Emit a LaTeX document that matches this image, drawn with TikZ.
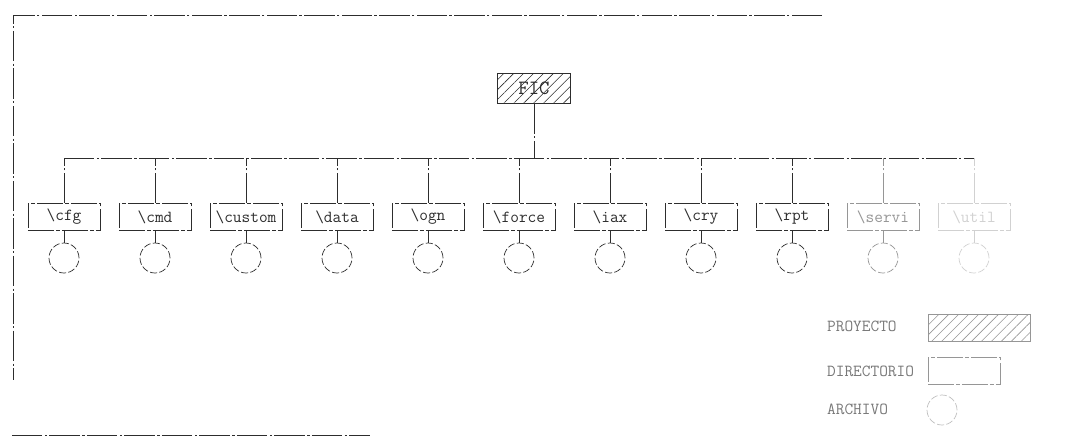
\documentclass[tikz,border=0pt]{standalone}
\usepackage{tikz}
\usetikzlibrary{patterns.meta,positioning,calc}
\definecolor{inkgray}{RGB}{45,45,45}
\definecolor{fadegray}{RGB}{150,150,150}
\tikzset{
  wornline/.style={draw=inkgray,line width=0.6pt,dash pattern=on 26pt off 2pt on 2pt off 2pt},
  frameline/.style={wornline,line width=0.8pt},
  projbox/.style={draw=inkgray,line width=0.6pt,pattern={Lines[angle=45,distance=6pt,line width=0.5pt]},
    pattern color=inkgray,minimum width=2.19cm,minimum height=0.9cm,inner sep=1pt,
    font=\ttfamily\LARGE,text=inkgray},
  dirbox/.style={draw=inkgray,line width=0.6pt,dash pattern=on 22pt off 2pt on 3pt off 2pt,
    minimum width=2.16cm,minimum height=0.81cm,inner sep=1pt,font=\ttfamily\Large,text=inkgray},
  filecirc/.style={circle,draw=inkgray,line width=0.6pt,dash pattern=on 6pt off 2pt,
    minimum size=0.9cm,inner sep=0pt},
  legendtext/.style={anchor=west,font=\ttfamily\Large,text=fadegray!80!black}
}
\begin{document}
\begin{tikzpicture}[x=0.03cm,y=-0.03cm]
  \useasboundingbox (0,0) rectangle (1069,438);
  % page frame
  \draw[frameline] (822,15) -- (13,15) -- (13,380);
  \draw[frameline] (12,435) -- (370,435);
  % project
  \node[projbox] (root) at (534,88) {FIC};
  \coordinate (busL) at (64,158);
  \coordinate (busR) at (974,158);
  \draw[wornline] (busL) -- (busR);
  \draw[wornline] (root.south) -- (root.south |- busL);
  % directories and their files
  \foreach \name/\tone [count=\i from 0] in {cfg/inkgray,cmd/inkgray,custom/inkgray,data/inkgray,
      ogn/inkgray,force/inkgray,iax/inkgray,cry/inkgray,rpt/inkgray,servi/fadegray,util/black!18} {
    \node[dirbox,draw=\tone,text=\tone] (\name) at ({64+91*\i},217) {\textbackslash\name};
    \node[filecirc,draw=\tone] (f\name) at ({64+91*\i},258) {};
    \draw[wornline,draw=\tone] (\name) -- (f\name);
    \draw[wornline,draw=\tone] (\name.north) -- (\name.north |- busL);
  }
  % legend
  \node[legendtext] (lproj) at (823,326) {PROYECTO};
  \node[legendtext] (ldir) at (823,371) {DIRECTORIO};
  \node[legendtext] (lfile) at (823,409) {ARCHIVO};
  \node[projbox,draw=fadegray,pattern color=fadegray,minimum width=3.06cm,minimum height=0.8cm] (kproj) at (979,328) {};
  \node[dirbox,draw=fadegray] (kdir) at (964,371) {};
  \node[filecirc,draw=black!25] (kfile) at (942,410) {};
\end{tikzpicture}
\end{document}
